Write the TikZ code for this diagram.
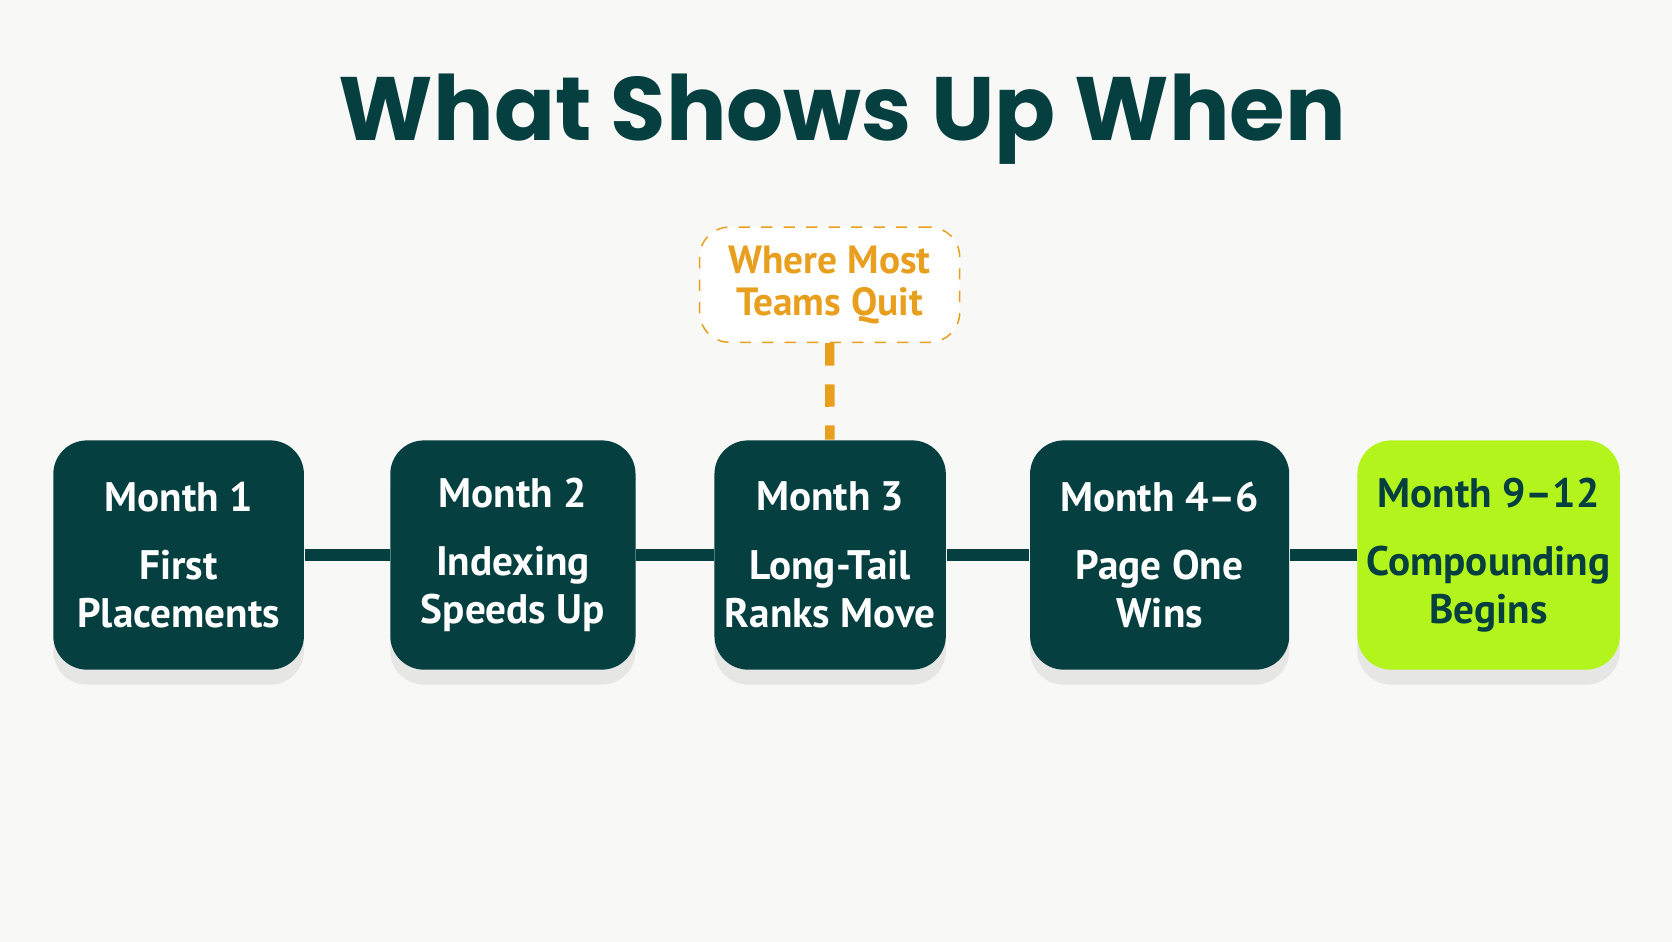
\documentclass[tikz,border=0pt]{standalone}
\usepackage{fontspec}
\setmainfont{PT Sans}
\newfontfamily\titlefont{Poppins}
\usetikzlibrary{positioning,shadows}
\definecolor{darkteal}{HTML}{053F40}
\definecolor{lime}{HTML}{B3F41C}
\definecolor{quitorange}{HTML}{E99F1E}
\definecolor{bgcol}{HTML}{F8F8F7}
\tikzset{
  stagebox/.style={rounded corners=9pt, fill=darkteal, text=white, minimum height=2.15cm,
    inner xsep=2pt, align=center, font=\bfseries\fontsize{11}{12.8}\selectfont,
    drop shadow={opacity=.15, shadow xshift=0pt, shadow yshift=-4pt}},
  limebox/.style={stagebox, fill=lime, text=darkteal},
  link/.style={line width=3pt, draw=darkteal}
}
\begin{document}
\begin{tikzpicture}
\fill[bgcol] (0,0) rectangle (15.68,8.83);
\useasboundingbox (0,0) rectangle (15.68,8.83);
\node (title) at (7.9,7.71) [text=darkteal, font=\titlefont\bfseries\fontsize{24}{30}\selectfont]{What Shows Up When};
% stages
\node (m1) at (1.675,3.625) [stagebox, minimum width=2.35cm]{Month 1\\[5.5pt]First\\Placements};
\node (m2) at (4.81,3.625) [stagebox, minimum width=2.3cm]{Month 2\\[5.5pt]Indexing\\Speeds Up};
\node (m3) at (7.785,3.625) [stagebox, minimum width=2.17cm]{Month 3\\[5.5pt]Long-Tail\\Ranks Move};
\node (m4) at (10.875,3.625) [stagebox, minimum width=2.43cm]{Month 4–6\\[5.5pt]Page One\\Wins};
\node (m5) at (13.96,3.625) [limebox, minimum width=2.46cm]{Month 9–12\\[5.5pt]Compounding\\Begins};
\draw[link] (m1) -- (m2);
\draw[link] (m2) -- (m3);
\draw[link] (m3) -- (m4);
\draw[link] (m4) -- (m5);
% callout
\node (quit) at (7.78,6.16) [draw=quitorange, dashed, rounded corners=8pt, fill=white, text=quitorange,
  minimum width=2.44cm, minimum height=1.08cm, align=center, font=\bfseries\fontsize{10.5}{11.3}\selectfont]{Where Most\\Teams Quit};
\draw[quitorange, line width=2.5pt, dash pattern=on 6pt off 5pt] (quit) -- (m3);
\end{tikzpicture}
\end{document}
